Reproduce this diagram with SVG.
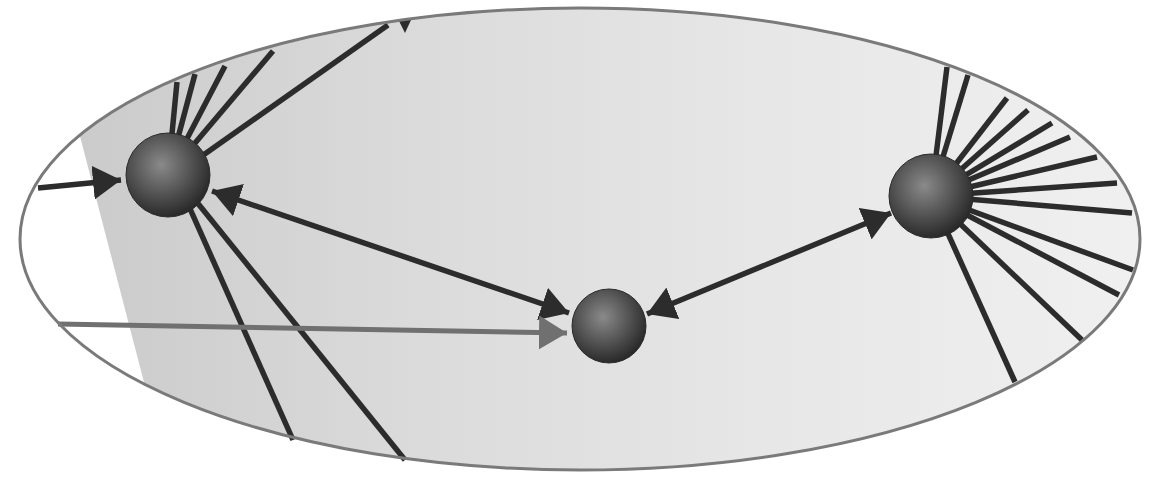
<svg xmlns="http://www.w3.org/2000/svg" width="1155" height="478" viewBox="0 0 1155 478">
  <style>
    .ln { stroke: #2c2c2c; stroke-width: 5.5; stroke-linecap: butt; fill: none; }
    .gl { stroke: #707070; stroke-width: 5; fill: none; }
    .sph { fill: url(#sphereGrad); stroke: #2a2a2a; stroke-width: 1; }
  </style>
  <defs>
    <clipPath id="ellClip">
      <ellipse cx="580" cy="239" rx="560" ry="231"/>
    </clipPath>
    <linearGradient id="shade" gradientUnits="userSpaceOnUse" x1="80" y1="0" x2="1140" y2="0">
      <stop offset="0" stop-color="#cbcbcb"/>
      <stop offset="0.3" stop-color="#dadada"/>
      <stop offset="0.65" stop-color="#e7e7e7"/>
      <stop offset="1" stop-color="#f0f0f0"/>
    </linearGradient>
    <radialGradient id="sphereGrad" cx="0.42" cy="0.38" r="0.62">
      <stop offset="0" stop-color="#8a8a8a"/>
      <stop offset="0.55" stop-color="#555555"/>
      <stop offset="1" stop-color="#2a2a2a"/>
    </radialGradient>
    <marker id="ah" viewBox="0 0 28 34" refX="28" refY="17" markerWidth="28" markerHeight="34" markerUnits="userSpaceOnUse" orient="auto-start-reverse">
      <path d="M0,0 L28,17 L0,34 Z" fill="#2c2c2c"/>
    </marker>
    <marker id="ahg" viewBox="0 0 28 34" refX="28" refY="17" markerWidth="28" markerHeight="34" markerUnits="userSpaceOnUse" orient="auto">
      <path d="M0,0 L28,17 L0,34 Z" fill="#707070"/>
    </marker>
  </defs>

  <g id="background">
    <rect width="1155" height="478" fill="#ffffff"/>
    <ellipse cx="580" cy="239" rx="560" ry="231" fill="#ffffff"/>
    <g clip-path="url(#ellClip)">
      <polygon points="42,-10 1160,-10 1160,490 172,490" fill="url(#shade)"/>
    </g>
  </g>

  <g id="connectors">
    <!-- left sphere fan -->
    <line class="ln" x1="168" y1="175" x2="177" y2="82"/>
    <line class="ln" x1="168" y1="175" x2="195" y2="74"/>
    <line class="ln" x1="168" y1="175" x2="225" y2="66"/>
    <line class="ln" x1="168" y1="175" x2="273" y2="51"/>
    <line class="ln" x1="175" y1="175" x2="388" y2="25"/>
    <line class="ln" x1="175" y1="175" x2="293" y2="440"/>
    <line class="ln" x1="175" y1="175" x2="405" y2="460"/>
    <path d="M398,19 L411,20 L405,33 Z" fill="#2c2c2c"/>
    <!-- right sphere fan -->
    <line class="ln" x1="931" y1="196" x2="947" y2="67"/>
    <line class="ln" x1="931" y1="196" x2="968" y2="75"/>
    <line class="ln" x1="931" y1="196" x2="1007" y2="98"/>
    <line class="ln" x1="931" y1="196" x2="1028" y2="110"/>
    <line class="ln" x1="931" y1="196" x2="1052" y2="123"/>
    <line class="ln" x1="931" y1="196" x2="1070" y2="137"/>
    <line class="ln" x1="931" y1="196" x2="1097" y2="157"/>
    <line class="ln" x1="931" y1="196" x2="1117" y2="183"/>
    <line class="ln" x1="931" y1="196" x2="1132" y2="213"/>
    <line class="ln" x1="931" y1="196" x2="1133" y2="270"/>
    <line class="ln" x1="931" y1="196" x2="1119" y2="295"/>
    <line class="ln" x1="931" y1="196" x2="1082" y2="340"/>
    <line class="ln" x1="931" y1="196" x2="1015" y2="382"/>
    <!-- incoming arrow to left sphere -->
    <line class="ln" x1="38" y1="188" x2="121" y2="180" marker-end="url(#ah)"/>
    <!-- bidirectional left - middle -->
    <line class="ln" x1="212" y1="191" x2="569" y2="313" stroke-width="6" marker-start="url(#ah)" marker-end="url(#ah)"/>
    <!-- bidirectional middle - right -->
    <line class="ln" x1="647" y1="314" x2="891" y2="213" stroke-width="6" marker-start="url(#ah)" marker-end="url(#ah)"/>
    <!-- gray arrow to middle -->
    <line class="gl" x1="58" y1="324" x2="567" y2="333" marker-end="url(#ahg)"/>
  </g>

  <g id="ellipse-outline">
    <ellipse cx="580" cy="239" rx="560" ry="231" fill="none" stroke="#7a7a7a" stroke-width="3"/>
  </g>

  <g id="node-left">
    <circle class="sph" cx="168" cy="175" r="42"/>
  </g>
  <g id="node-middle">
    <circle class="sph" cx="609" cy="326" r="37"/>
  </g>
  <g id="node-right">
    <circle class="sph" cx="931" cy="196" r="42"/>
  </g>
</svg>
